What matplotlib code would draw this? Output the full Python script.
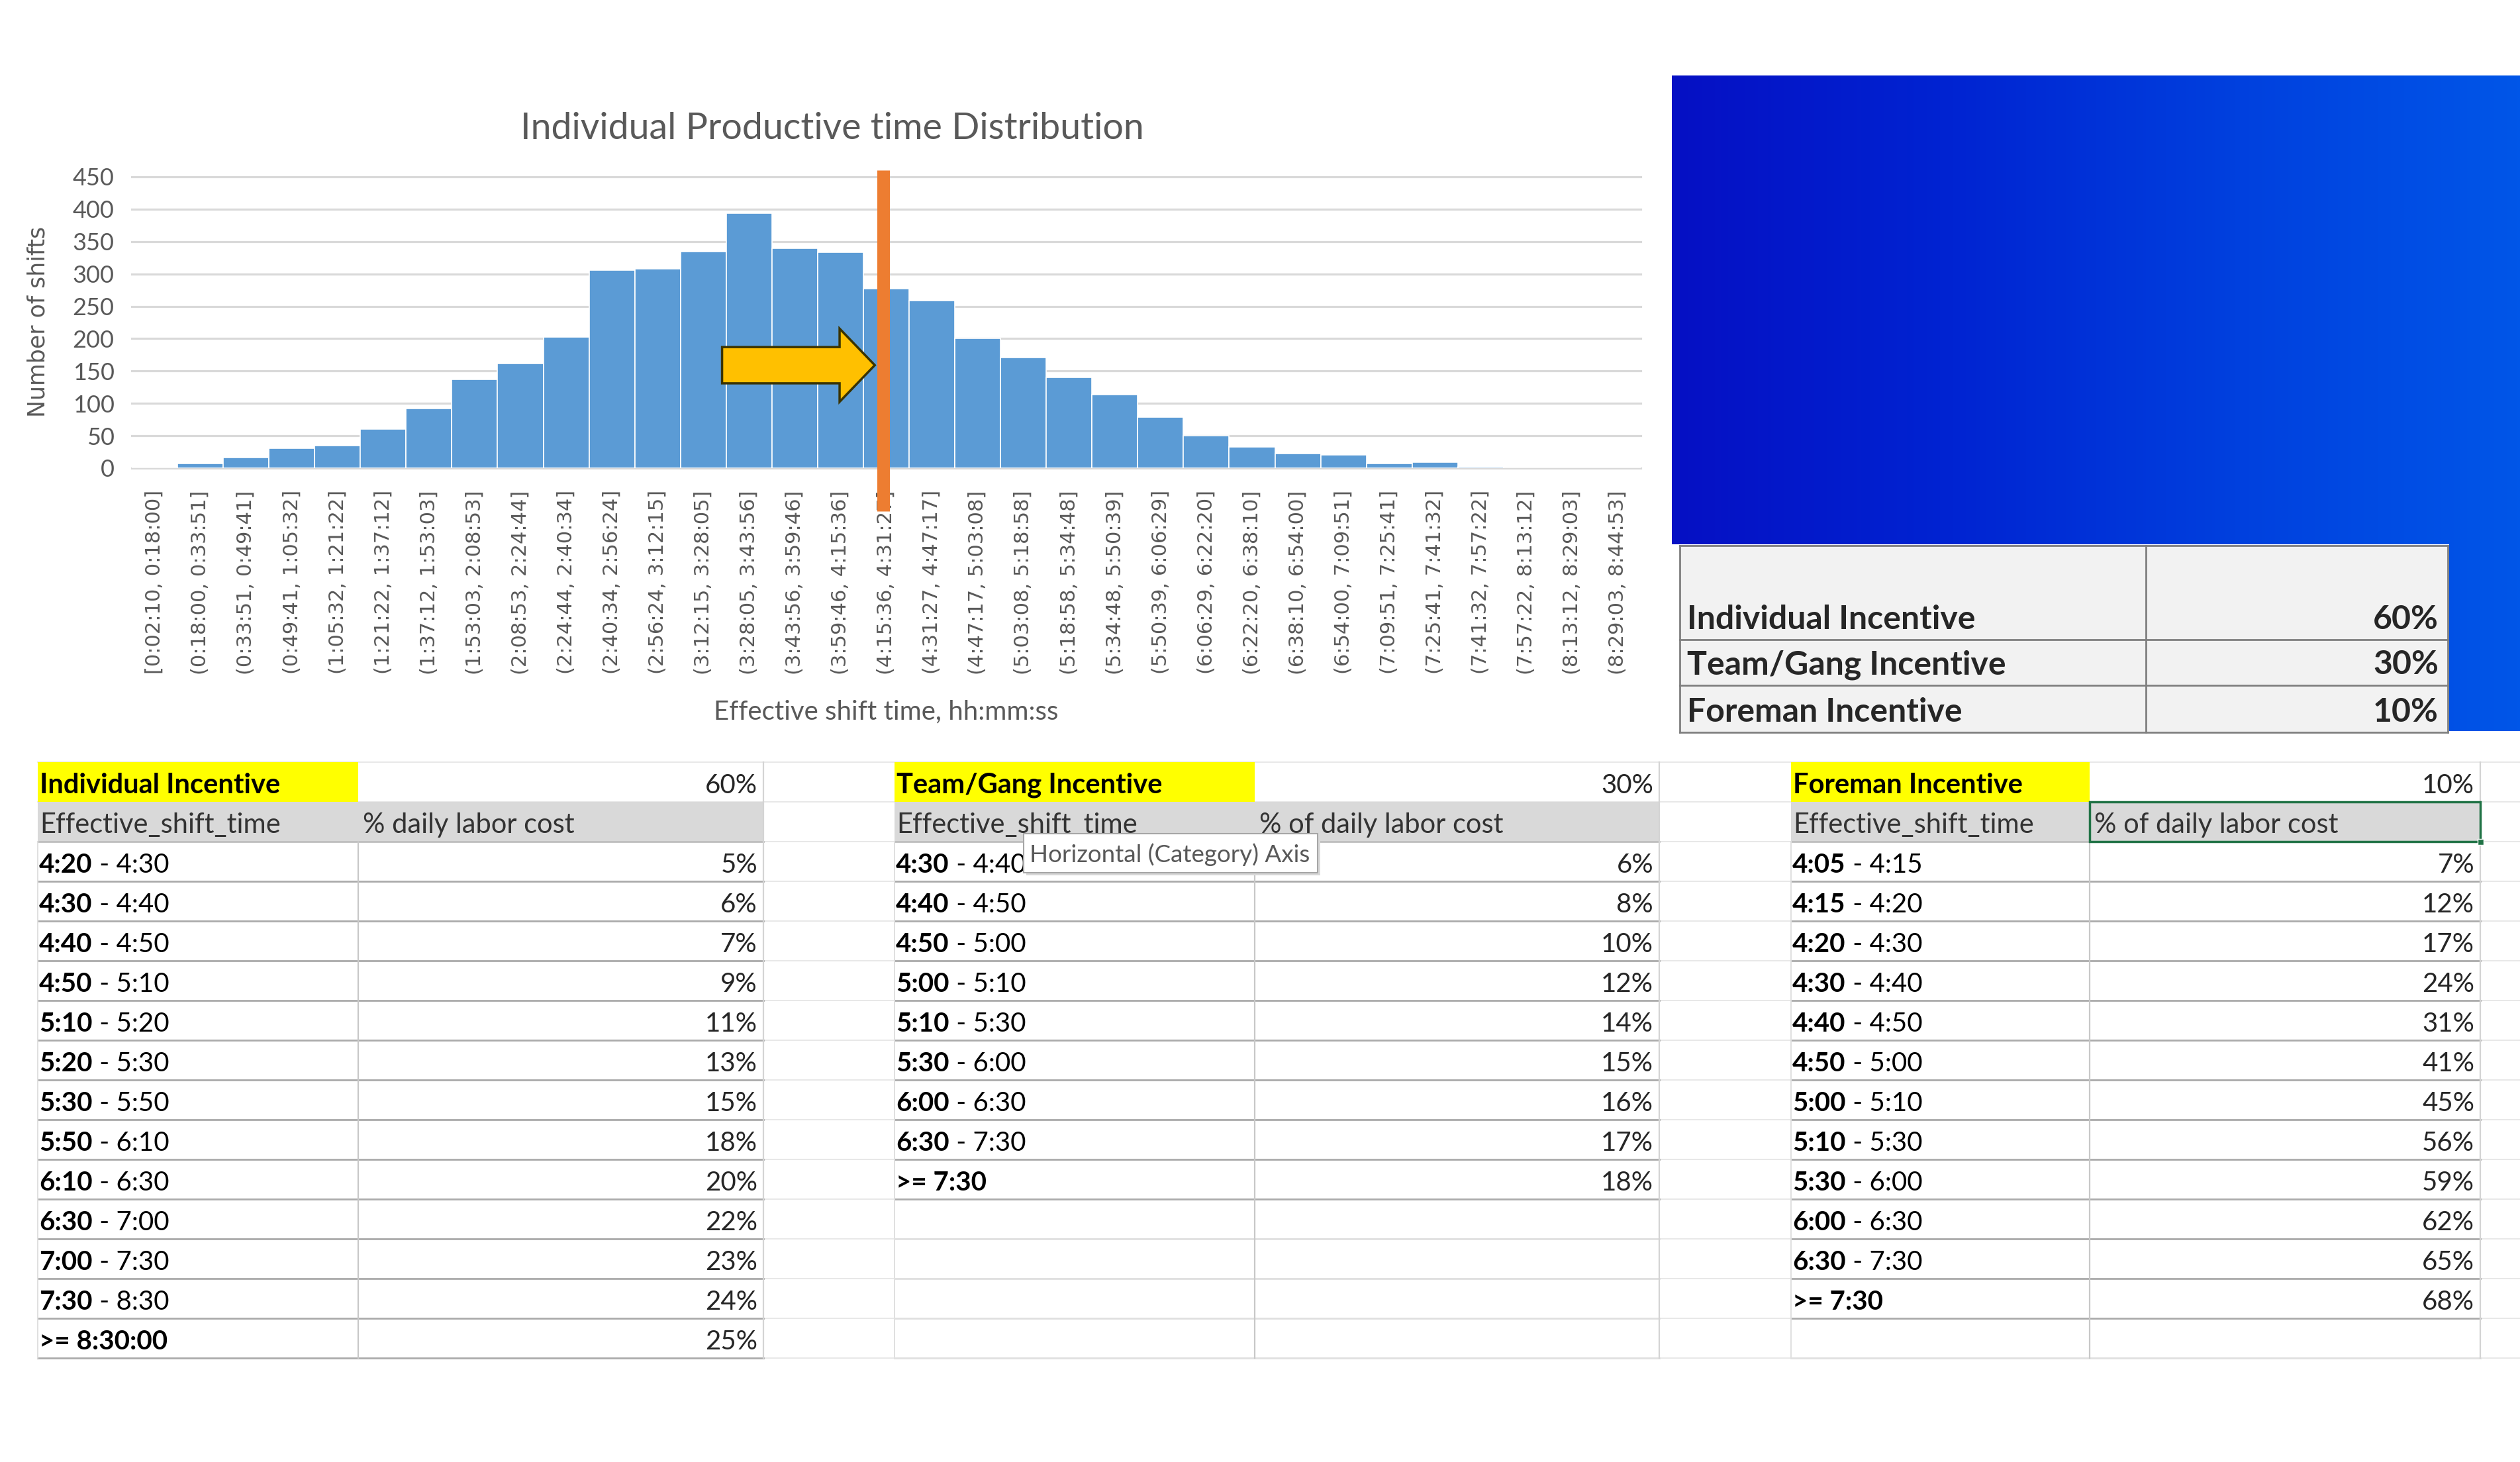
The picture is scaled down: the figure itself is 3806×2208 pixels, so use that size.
import numpy as np
import matplotlib
matplotlib.use("Agg")
import matplotlib.pyplot as plt
from matplotlib.patches import Rectangle, FancyArrow
from matplotlib.colors import LinearSegmentedColormap

# --- data ---
bin_edges = ["0:02:10", "0:18:00", "0:33:51", "0:49:41", "1:05:32", "1:21:22", "1:37:12",
             "1:53:03", "2:08:53", "2:24:44", "2:40:34", "2:56:24", "3:12:15", "3:28:05",
             "3:43:56", "3:59:46", "4:15:36", "4:31:27", "4:47:17", "5:03:08", "5:18:58",
             "5:34:48", "5:50:39", "6:06:29", "6:22:20", "6:38:10", "6:54:00", "7:09:51",
             "7:25:41", "7:41:32", "7:57:22", "8:13:12", "8:29:03", "8:44:53"]
shift_counts = [0, 7, 16, 31, 35, 60, 92, 137, 162, 203, 306, 308, 334, 394, 340, 333,
                277, 259, 200, 171, 140, 114, 79, 50, 33, 22, 20, 7, 9, 2, 0, 0, 0]
threshold_pos = 15.93   # orange marker, in bin units

share_names = ["Individual Incentive", "Team/Gang Incentive", "Foreman Incentive"]
share_pct = [60, 30, 10]

ind_ranges = ["4:20 - 4:30", "4:30 - 4:40", "4:40 - 4:50", "4:50 - 5:10", "5:10 - 5:20",
              "5:20 - 5:30", "5:30 - 5:50", "5:50 - 6:10", "6:10 - 6:30", "6:30 - 7:00",
              "7:00 - 7:30", "7:30 - 8:30", ">= 8:30:00"]
ind_pct = [5, 6, 7, 9, 11, 13, 15, 18, 20, 22, 23, 24, 25]

team_ranges = ["4:30 - 4:40", "4:40 - 4:50", "4:50 - 5:00", "5:00 - 5:10", "5:10 - 5:30",
               "5:30 - 6:00", "6:00 - 6:30", "6:30 - 7:30", ">= 7:30"]
team_pct = [6, 8, 10, 12, 14, 15, 16, 17, 18]

fore_ranges = ["4:05 - 4:15", "4:15 - 4:20", "4:20 - 4:30", "4:30 - 4:40", "4:40 - 4:50",
               "4:50 - 5:00", "5:00 - 5:10", "5:10 - 5:30", "5:30 - 6:00", "6:00 - 6:30",
               "6:30 - 7:30", ">= 7:30"]
fore_pct = [7, 12, 17, 24, 31, 41, 45, 56, 59, 62, 65, 68]

bin_labels = [("[" if i == 0 else "(") + f"{a}, {b}]"
              for i, (a, b) in enumerate(zip(bin_edges[:-1], bin_edges[1:]))]

W, H = 3806, 2208
CAL = "Lato"
GREY = "#595959"
HEAD_FS, DATA_FS = 30, 29

fig = plt.figure(figsize=(W / 100, H / 100), dpi=100)
fig.patch.set_facecolor("white")

# pixel-space canvas for the sheet, tables and decorations
bg = fig.add_axes([0, 0, 1, 1])
bg.axis("off")

# blue gradient block top right
blues = LinearSegmentedColormap.from_list("b", ["#0610C4", "#0024D2", "#0040DE", "#0056E8"])
bg.imshow(np.linspace(0, 1, 256).reshape(1, -1), cmap=blues, aspect="auto",
          extent=(2525, W, 1104, 114), zorder=0)
bg.set_xlim(0, W)
bg.set_ylim(H, 0)
bg.add_patch(Rectangle((2510, 822), 3699 - 2510, 300, fc="white", ec="none", zorder=1))

# summary table under the blue block
sx0, sxd, sx1 = 2537, 3241, 3697
s_rows = [824, 966, 1035, 1106]
bg.add_patch(Rectangle((sx0, s_rows[0]), sx1 - sx0, s_rows[-1] - s_rows[0],
                       fc="#F2F2F2", ec="none", zorder=2))
for y in s_rows:
    bg.plot([sx0, sx1], [y, y], color="#7F7F7F", lw=2, zorder=3)
for x in (sx0, sxd, sx1):
    bg.plot([x, x], [s_rows[0], s_rows[-1]], color="#7F7F7F", lw=2, zorder=3)
for name, pct, yb in zip(share_names, share_pct, s_rows[1:]):
    bg.text(sx0 + 11, yb - 31, name, family=CAL, weight="bold", size=36,
            color="#262626", va="center", ha="left", zorder=4)
    bg.text(sx1 - 14, yb - 31, f"{pct}%", family=CAL, weight="bold", size=36,
            color="#262626", va="center", ha="right", zorder=4)

# faint sheet gridlines behind the lower tables
ROW_TOP, ROW_H, N_ROWS = 1151, 60, 13
row_lines = [ROW_TOP + ROW_H * k for k in range(N_ROWS + 3)]
for y in row_lines:
    bg.plot([57, W], [y, y], color="#E6E6E6", lw=1.3, zorder=1)


def range_text(x, y, s):
    kw = dict(family=CAL, size=DATA_FS, color="black", va="center", zorder=4)
    if s.startswith(">="):
        bg.text(x, y, s, weight="bold", ha="left", **kw)
        return
    first, rest = s.split(" - ", 1)
    t = bg.text(x, y, first, weight="bold", ha="left", **kw)
    kw["va"] = "bottom"
    bg.annotate(" - " + rest, xy=(1, 0), xycoords=t, ha="left", **kw)


def draw_table(x0, xd, x1, title, share, col2, ranges, pcts, selected=False):
    y_h1, y_h2, y_d = ROW_TOP, ROW_TOP + ROW_H, ROW_TOP + 2 * ROW_H
    y_end = y_d + ROW_H * N_ROWS
    bg.add_patch(Rectangle((x0, y_h1), xd - x0, ROW_H, fc="#FFFF00", ec="none", zorder=2))
    bg.add_patch(Rectangle((x0, y_h2), x1 - x0, ROW_H, fc="#D9D9D9", ec="none", zorder=2))
    bg.text(x0 + 3, y_h1 + 35, title, family=CAL, weight="bold", size=HEAD_FS,
            color="black", va="center", zorder=4)
    bg.text(x1 - 9, y_h1 + 35, f"{share}%", family=CAL, size=DATA_FS,
            color="#262626", va="center", ha="right", zorder=4)
    bg.text(x0 + 3, y_h2 + 35, "Effective_shift_time", family=CAL, size=HEAD_FS,
            color="#333333", va="center", zorder=4)
    bg.text(xd + 7, y_h2 + 35, col2, family=CAL, size=HEAD_FS,
            color="#333333", va="center", zorder=4)
    bg.plot([x0, x1], [y_d, y_d], color="#BFBFBF", lw=2, zorder=3)
    for i, (r, p) in enumerate(zip(ranges, pcts)):
        yc = y_d + ROW_H * i + 35
        range_text(x0 + 2, yc, r)
        bg.text(x1 - 9, yc, f"{p}%", family=CAL, size=DATA_FS, color="#262626",
                va="center", ha="right", zorder=4)
    for k in range(1, N_ROWS + 1):
        col = "#ABABAB" if k <= len(ranges) else "#E0E0E0"
        bg.plot([x0, x1], [y_d + ROW_H * k] * 2, color=col, lw=2, zorder=3)
    bg.plot([xd, xd], [y_d, y_end], color="#C8C8C8", lw=1.6, zorder=3)
    bg.plot([x0, x0], [y_d, y_end], color="#E0E0E0", lw=1.4, zorder=3)
    bg.plot([x1, x1], [y_h1, y_end], color="#D4D4D4", lw=1.6, zorder=3)
    if selected:
        bg.add_patch(Rectangle((xd, y_h2), x1 - xd, ROW_H, fill=False,
                               ec="#217346", lw=2.5, zorder=5))
        bg.add_patch(Rectangle((x1 - 4, y_d - 4), 9, 9, fc="#217346", ec="white",
                               lw=1, zorder=6))


draw_table(57, 541, 1153, share_names[0], share_pct[0], "% daily labor cost",
           ind_ranges, ind_pct)
draw_table(1351, 1895, 2506, share_names[1], share_pct[1], "% of daily labor cost",
           team_ranges, team_pct)
draw_table(2705, 3156, 3746, share_names[2], share_pct[2], "% of daily labor cost",
           fore_ranges, fore_pct, selected=True)

# tooltip left over from the screen capture
bg.add_patch(Rectangle((1550, 1263), 444, 59, fc="#D8D8D8", ec="none", zorder=9))
bg.add_patch(Rectangle((1546, 1259), 444, 59, fc="white", ec="#A6A6A6", lw=1.5, zorder=10))
bg.text(1555, 1291, "Horizontal (Category) Axis", family=CAL, size=26.5, color=GREY,
        va="center", ha="left", zorder=11)

# chart titles
bg.text(1257, 194, "Individual Productive time Distribution", family=CAL, size=40,
        color=GREY, ha="center", va="center")
bg.text(1338, 1075, "Effective shift time, hh:mm:ss", family=CAL, size=29,
        color=GREY, ha="center", va="center")
bg.text(58, 486, "Number of shifts", family="DejaVu Sans", size=25, color=GREY,
        rotation=90, ha="center", va="center")

# histogram
px0, px1, py_top, py_bot = 199, 2478, 267, 707
ax = fig.add_axes([px0 / W, 1 - py_bot / H, (px1 - px0) / W, (py_bot - py_top) / H])
ax.patch.set_alpha(0)
x = np.arange(len(shift_counts))
ax.bar(x, shift_counts, width=1.0, color="#5B9BD5", edgecolor="white", linewidth=1.2,
       zorder=2)
ax.set_xlim(-0.5, len(shift_counts) - 0.5)
ax.set_ylim(0, 450)
ax.set_yticks(np.arange(0, 451, 50))
ax.set_xticks(x)
ax.set_xticklabels(bin_labels, rotation=90, family="DejaVu Sans", size=22, color=GREY,
                   va="top", ha="center")
for lab in ax.get_yticklabels():
    lab.set_family(CAL)
    lab.set_fontsize(26)
    lab.set_color(GREY)
ax.tick_params(axis="x", length=0, pad=24)
ax.tick_params(axis="y", length=0, pad=19)
ax.grid(axis="y", color="#D9D9D9", lw=2.3, zorder=0)
ax.set_axisbelow(True)
for gl in ax.get_ygridlines():
    gl.set_clip_on(False)
for sp in ax.spines.values():
    sp.set_visible(False)

ax.add_patch(FancyArrow(12.41, 159, 3.34, 0, width=56, head_width=113, head_length=0.77,
                        length_includes_head=True, fc="#FFC000", ec="#3A3300", lw=2.5,
                        zorder=4, clip_on=False))
ax.plot([threshold_pos, threshold_pos], [-66, 460], color="#ED7D31", lw=13.7,
        solid_capstyle="butt", clip_on=False, zorder=5)

fig.savefig("out.png", dpi=100, facecolor="white")
